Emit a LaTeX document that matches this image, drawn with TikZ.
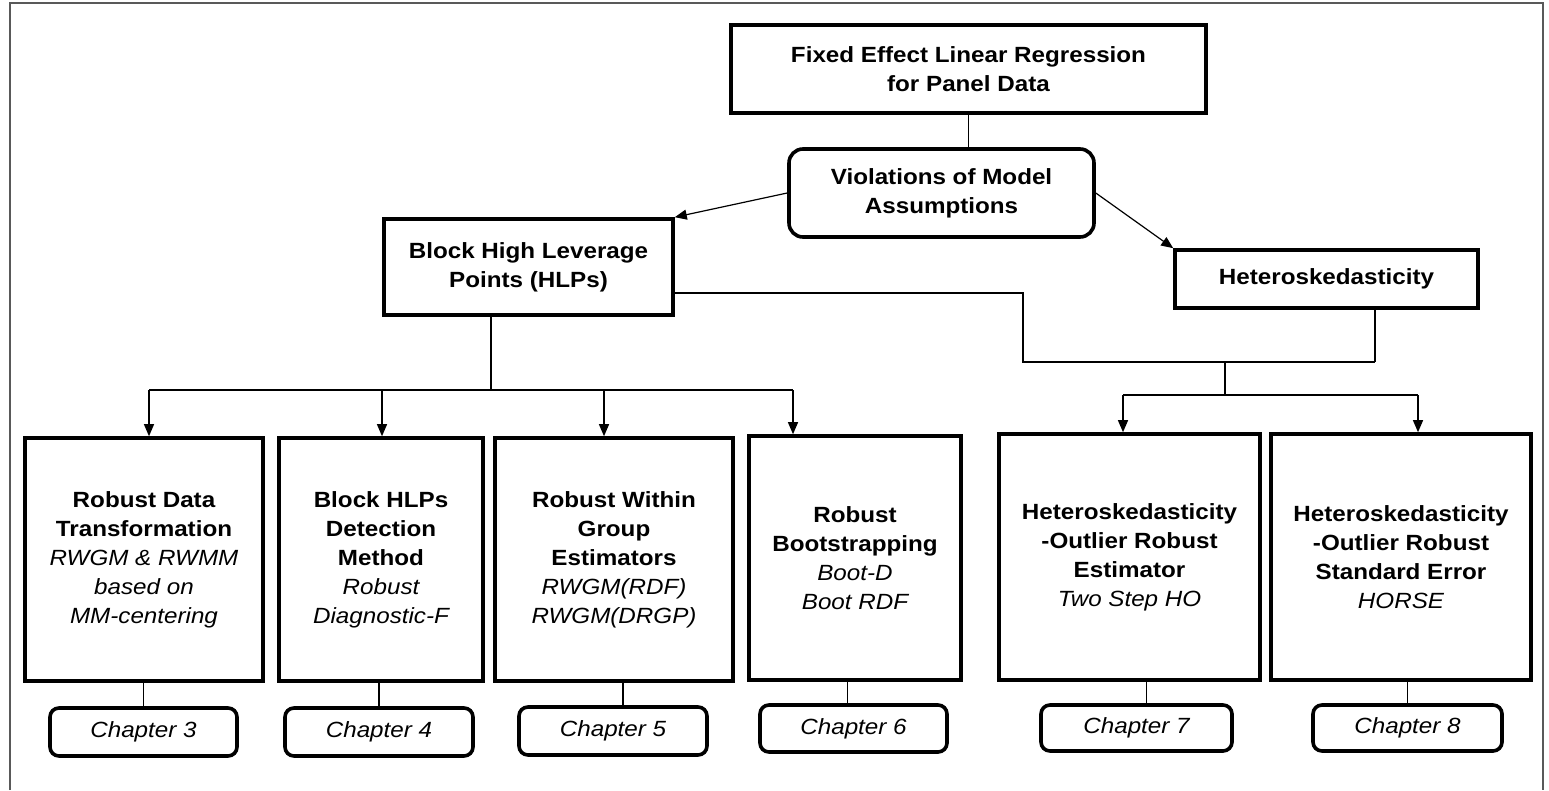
\documentclass[tikz,border=0pt]{standalone}
\usepackage{fontspec}
\setmainfont{Liberation Sans}[FakeStretch=1.1]
\usetikzlibrary{arrows.meta}
\begin{document}
\begin{tikzpicture}[x=1pt,y=-1pt,
  box/.style={draw, line width=3.6pt, inner sep=0pt, align=center,
    font=\fontsize{22}{29}\selectfont\bfseries},
  rbox/.style={box, rounded corners=14pt},
  chap/.style={draw, line width=3.6pt, inner sep=0pt, rounded corners=9pt,
    font=\fontsize{22}{29}\selectfont\itshape},
  conn/.style={line width=1.2pt},
  arr/.style={conn, -{Triangle[length=12pt,width=10pt]}},
  frame/.style={draw=black!65, line width=2pt},
  sub/.style={}
]
\useasboundingbox (0,0) rectangle (1549,790);
\newcommand{\itl}[1]{{\mdseries\itshape #1}}
% outer frame
\draw[frame] (9.5,790) -- (9.5,3) -- (1543,3) -- (1543,790);

% top nodes
\node[box, minimum width=475, minimum height=88] (top) at (968.5,69)
  {Fixed Effect Linear Regression\\for Panel Data};
\node[rbox, minimum width=305, minimum height=88] (viol) at (941.5,193)
  {Violations of Model\\Assumptions};
\node[box, minimum width=289, minimum height=96] (hlp) at (528.5,267)
  {Block High Leverage\\Points (HLPs)};
\node[box, minimum width=303, minimum height=58] (het) at (1326.5,279)
  {Heteroskedasticity};

% method boxes
\node[box, minimum width=238, minimum height=243] (b3) at (144,559.5)
  {Robust Data\\Transformation\\\itl{RWGM \& RWMM}\\\itl{based on}\\\itl{MM-centering}};
\node[box, minimum width=204, minimum height=243] (b4) at (381,559.5)
  {Block HLPs\\Detection\\Method\\\itl{Robust}\\\itl{Diagnostic-F}};
\node[box, minimum width=238, minimum height=243] (b5) at (614,559.5)
  {Robust Within\\Group\\Estimators\\\itl{RWGM(RDF)}\\\itl{RWGM(DRGP)}};
\node[box, minimum width=212, minimum height=244] (b6) at (855,558)
  {Robust\\Bootstrapping\\\itl{Boot-D}\\\itl{Boot RDF}};
\node[box, minimum width=261, minimum height=246] (b7) at (1129.5,557)
  {Heteroskedasticity\\-Outlier Robust\\Estimator\\\itl{Two Step HO}};
\node[box, minimum width=260, minimum height=246] (b8) at (1401,557)
  {Heteroskedasticity\\-Outlier Robust\\Standard Error\\\itl{HORSE}};

% chapter boxes
\node[chap, minimum width=187, minimum height=48] (c3) at (143.5,732) {Chapter 3};
\node[chap, minimum width=188, minimum height=48] (c4) at (379,732) {Chapter 4};
\node[chap, minimum width=188, minimum height=48] (c5) at (613,731) {Chapter 5};
\node[chap, minimum width=187, minimum height=47] (c6) at (853.5,728.5) {Chapter 6};
\node[chap, minimum width=191, minimum height=46] (c7) at (1136.5,728) {Chapter 7};
\node[chap, minimum width=189, minimum height=46] (c8) at (1407.5,728) {Chapter 8};

% connectors at the top
\draw[conn] (top.south) -- (top.south |- viol.north);
\draw[arr] (viol.west) -- (hlp.north east);
\draw[arr] (viol.east) -- (het.north west);

% left branch
\coordinate (hj) at (491,390);
\coordinate (a3) at (149,390);
\coordinate (a4) at (382,390);
\coordinate (a5) at (604,390);
\coordinate (a6) at (793,390);
\draw[conn] (hj |- hlp.south) -- (hj);
\draw[conn] (a3) -- (a6);
\draw[arr] (a3) -- (a3 |- b3.north);
\draw[arr] (a4) -- (a4 |- b4.north);
\draw[arr] (a5) -- (a5 |- b5.north);
\draw[arr] (a6) -- (a6 |- b6.north);

% right branch
\coordinate (r1) at (1023,293);
\coordinate (r2) at (1023,362);
\coordinate (hd) at (1375,362);
\coordinate (rj) at (1225,362);
\coordinate (rk) at (1225,395);
\coordinate (a7) at (1123,395);
\coordinate (a8) at (1418,395);
\draw[conn] (hlp.east |- r1) -- (r1) -- (r2) -- (hd);
\draw[conn] (hd |- het.south) -- (hd);
\draw[conn] (rj) -- (rk);
\draw[conn] (a7) -- (a8);
\draw[arr] (a7) -- (a7 |- b7.north);
\draw[arr] (a8) -- (a8 |- b8.north);

% boxes to chapters
\draw[conn] (c3.north) -- (c3.north |- b3.south);
\draw[conn] (c4.north) -- (c4.north |- b4.south);
\draw[conn] ([xshift=10pt]c5.north) -- ([xshift=10pt]c5.north |- b5.south);
\draw[conn] ([xshift=-6pt]c6.north) -- ([xshift=-6pt]c6.north |- b6.south);
\draw[conn] ([xshift=10pt]c7.north) -- ([xshift=10pt]c7.north |- b7.south);
\draw[conn] (c8.north) -- (c8.north |- b8.south);
\end{tikzpicture}
\end{document}
